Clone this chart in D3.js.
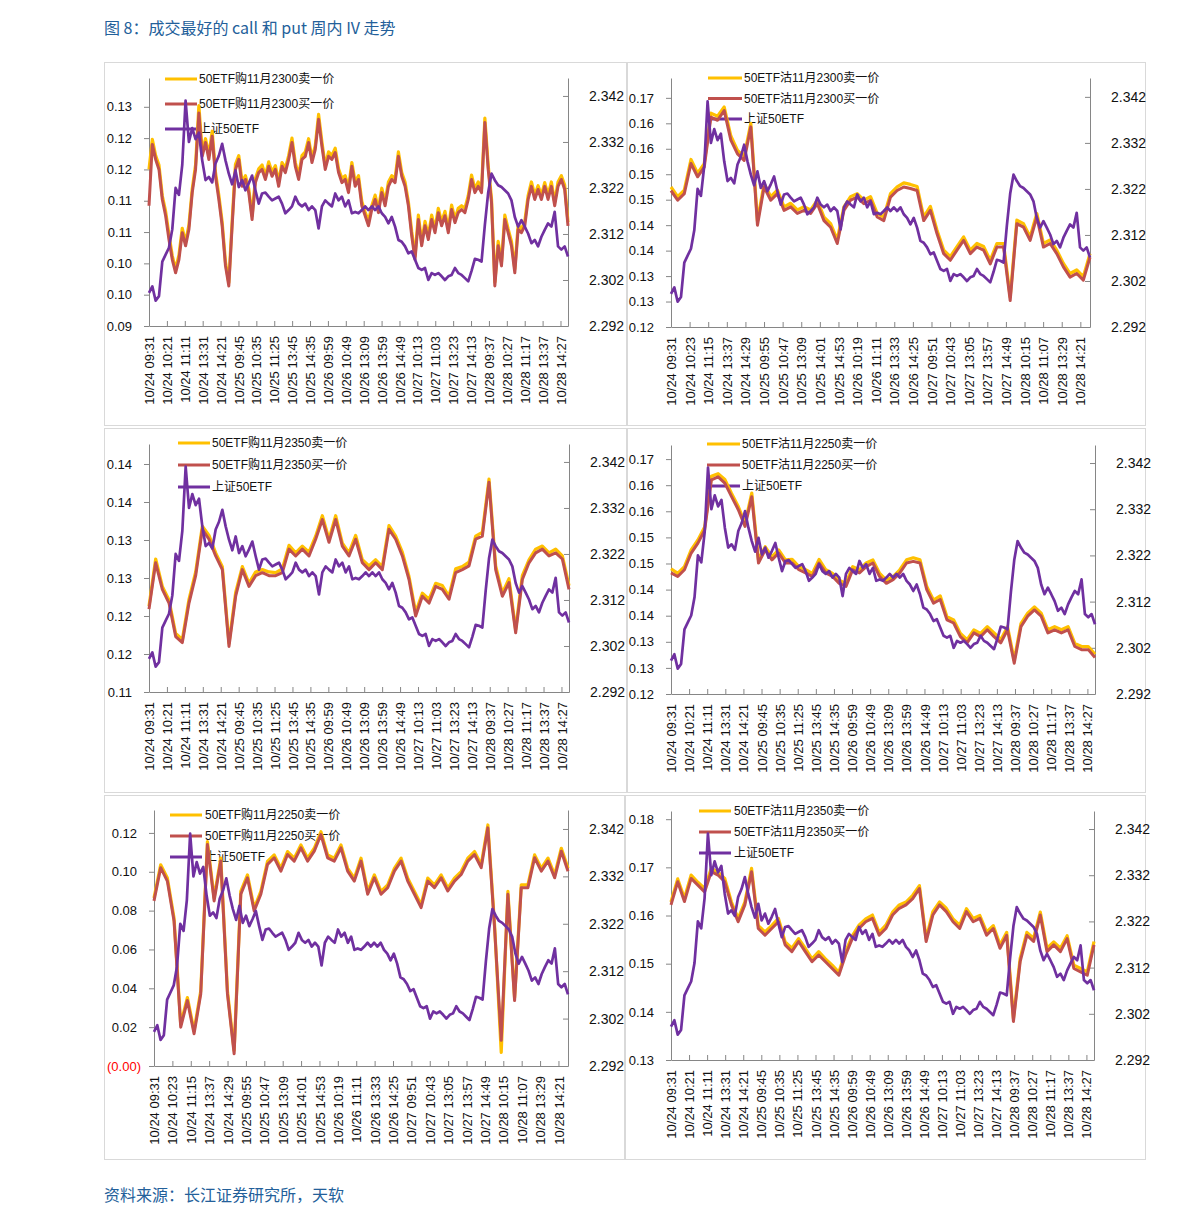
<!DOCTYPE html>
<html><head><meta charset="utf-8">
<script src="https://cdn.jsdelivr.net/npm/d3@7"></script>
<style>body{margin:0;background:#fff}svg{display:block}</style>
</head><body>
<svg id="c" width="1191" height="1224"></svg>
<script>
// ---------- data ----------
const etfPrice = [2.2992,2.3006,2.2975,2.2985,2.3060,2.3075,2.3090,2.3130,2.3220,2.3205,
 2.3270,2.3410,2.3320,2.3350,2.3326,2.3340,2.3280,2.3237,2.3244,2.3232,
 2.3273,2.3290,2.3316,2.3280,2.3251,2.3228,2.3258,2.3222,2.3237,2.3215,
 2.3230,2.3247,2.3215,2.3186,2.3208,2.3210,2.3201,2.3193,2.3197,2.3201,
 2.3186,2.3165,2.3172,2.3180,2.3201,2.3186,2.3180,2.3186,2.3172,2.3180,
 2.3172,2.3132,2.3180,2.3193,2.3186,2.3180,2.3208,2.3193,2.3201,2.3180,
 2.3193,2.3165,2.3168,2.3165,2.3172,2.3180,2.3172,2.3180,2.3172,2.3180,
 2.3165,2.3157,2.3143,2.3157,2.3136,2.3107,2.3103,2.3093,2.3078,2.3082,
 2.3064,2.3046,2.3042,2.3046,2.3020,2.3035,2.3031,2.3035,2.3028,2.3020,
 2.3028,2.3031,2.3046,2.3035,2.3031,2.3024,2.3017,2.3040,2.3066,2.3064,
 2.3060,2.3140,2.3210,2.3251,2.3237,2.3226,2.3222,2.3215,2.3208,2.3193,
 2.3157,2.3136,2.3150,2.3136,2.3121,2.3100,2.3107,2.3093,2.3114,2.3129,
 2.3143,2.3136,2.3168,2.3093,2.3086,2.3093,2.3071];

const call2300Bid = [0.1092,0.1190,0.1166,0.1150,0.1102,0.1076,0.1038,0.1006,0.0985,0.1006,
 0.1049,0.1028,0.1054,0.1113,0.1150,0.1240,0.1171,0.1193,0.1166,0.1203,
 0.1139,0.1102,0.1060,0.0996,0.0964,0.1060,0.1150,0.1166,0.1123,0.1134,
 0.1113,0.1070,0.1129,0.1145,0.1150,0.1134,0.1155,0.1139,0.1150,0.1123,
 0.1155,0.1145,0.1166,0.1193,0.1155,0.1134,0.1166,0.1171,0.1193,0.1161,
 0.1182,0.1230,0.1187,0.1150,0.1171,0.1166,0.1177,0.1145,0.1129,0.1134,
 0.1113,0.1155,0.1123,0.1134,0.1092,0.1076,0.1060,0.1086,0.1102,0.1081,
 0.1113,0.1092,0.1123,0.1134,0.1129,0.1171,0.1139,0.1123,0.1092,0.1044,
 0.1006,0.1070,0.1028,0.1060,0.1038,0.1070,0.1049,0.1081,0.1060,0.1076,
 0.1049,0.1086,0.1065,0.1081,0.1086,0.1081,0.1102,0.1134,0.1113,0.1123,
 0.1113,0.1225,0.1150,0.1097,0.0964,0.1028,0.0996,0.1070,0.1049,0.1028,
 0.0985,0.1054,0.1049,0.1060,0.1102,0.1123,0.1102,0.1118,0.1102,0.1123,
 0.1102,0.1123,0.1092,0.1123,0.1134,0.1118,0.1060];
const call2300Ask = [0.1150,0.1198,0.1172,0.1157,0.1108,0.1083,0.1046,0.1012,0.0991,0.1013,
 0.1056,0.1034,0.1061,0.1119,0.1157,0.1252,0.1178,0.1199,0.1173,0.1211,
 0.1145,0.1109,0.1066,0.1002,0.0969,0.1067,0.1158,0.1172,0.1130,0.1140,
 0.1119,0.1076,0.1136,0.1151,0.1157,0.1140,0.1162,0.1146,0.1156,0.1130,
 0.1161,0.1152,0.1172,0.1200,0.1161,0.1141,0.1172,0.1178,0.1199,0.1168,
 0.1188,0.1238,0.1194,0.1156,0.1178,0.1172,0.1184,0.1151,0.1136,0.1140,
 0.1120,0.1161,0.1130,0.1140,0.1099,0.1082,0.1067,0.1092,0.1109,0.1087,
 0.1120,0.1098,0.1130,0.1140,0.1136,0.1178,0.1145,0.1130,0.1098,0.1051,
 0.1012,0.1077,0.1034,0.1067,0.1044,0.1077,0.1055,0.1088,0.1066,0.1083,
 0.1055,0.1093,0.1071,0.1088,0.1092,0.1088,0.1108,0.1141,0.1119,0.1130,
 0.1119,0.1232,0.1157,0.1103,0.0970,0.1035,0.1002,0.1077,0.1055,0.1035,
 0.0991,0.1061,0.1055,0.1067,0.1108,0.1130,0.1109,0.1124,0.1109,0.1129,
 0.1109,0.1130,0.1098,0.1130,0.1140,0.1125,0.1066];

const put2300Bid = [0.1468,0.1449,0.1462,0.1521,0.1495,0.1514,0.1612,0.1606,0.1625,0.1567,
 0.1540,0.1527,0.1593,0.1400,0.1475,0.1449,0.1462,0.1429,0.1436,0.1423,
 0.1429,0.1423,0.1442,0.1409,0.1396,0.1364,0.1429,0.1449,0.1455,0.1442,
 0.1449,0.1416,0.1409,0.1455,0.1468,0.1475,0.1472,0.1468,0.1409,0.1429,
 0.1383,0.1344,0.1331,0.1351,0.1370,0.1344,0.1357,0.1351,0.1324,0.1357,
 0.1357,0.1252,0.1403,0.1396,0.1370,0.1416,0.1357,0.1364,0.1344,0.1318,
 0.1298,0.1305,0.1292,0.1337];
const put2300Ask = [0.1475,0.1456,0.1469,0.1529,0.1502,0.1521,0.1620,0.1614,0.1632,0.1575,
 0.1547,0.1535,0.1600,0.1408,0.1482,0.1456,0.1469,0.1436,0.1443,0.1430,
 0.1436,0.1430,0.1449,0.1416,0.1403,0.1371,0.1436,0.1456,0.1462,0.1449,
 0.1456,0.1423,0.1416,0.1462,0.1475,0.1483,0.1480,0.1476,0.1416,0.1437,
 0.1390,0.1351,0.1338,0.1358,0.1377,0.1351,0.1364,0.1358,0.1331,0.1364,
 0.1364,0.1259,0.1410,0.1403,0.1377,0.1423,0.1364,0.1371,0.1351,0.1325,
 0.1305,0.1312,0.1299,0.1344];

const call2350Bid = [0.1209,0.1270,0.1235,0.1217,0.1173,0.1165,0.1217,0.1253,0.1314,0.1301,
 0.1279,0.1261,0.1160,0.1226,0.1261,0.1239,0.1253,0.1257,0.1253,0.1253,
 0.1257,0.1288,0.1279,0.1288,0.1279,0.1301,0.1327,0.1297,0.1327,0.1292,
 0.1279,0.1301,0.1270,0.1261,0.1270,0.1261,0.1314,0.1301,0.1279,0.1248,
 0.1200,0.1226,0.1217,0.1239,0.1235,0.1222,0.1257,0.1261,0.1266,0.1301,
 0.1305,0.1376,0.1261,0.1226,0.1244,0.1178,0.1248,0.1270,0.1283,0.1288,
 0.1279,0.1283,0.1275,0.1235];
const call2350Ask = [0.1213,0.1275,0.1239,0.1221,0.1177,0.1169,0.1222,0.1258,0.1318,0.1306,
 0.1283,0.1265,0.1164,0.1231,0.1265,0.1243,0.1258,0.1261,0.1258,0.1257,
 0.1262,0.1293,0.1283,0.1292,0.1284,0.1305,0.1332,0.1301,0.1332,0.1296,
 0.1283,0.1306,0.1274,0.1266,0.1274,0.1265,0.1319,0.1305,0.1284,0.1252,
 0.1205,0.1230,0.1222,0.1243,0.1240,0.1226,0.1262,0.1265,0.1271,0.1305,
 0.1310,0.1380,0.1266,0.1230,0.1249,0.1182,0.1253,0.1274,0.1288,0.1292,
 0.1283,0.1288,0.1279,0.1240];

const put2250Bid = [0.1432,0.1425,0.1438,0.1470,0.1489,0.1514,0.1610,0.1616,0.1604,0.1578,
 0.1553,0.1521,0.1578,0.1451,0.1476,0.1457,0.1470,0.1451,0.1451,0.1438,
 0.1432,0.1425,0.1451,0.1432,0.1425,0.1412,0.1406,0.1438,0.1432,0.1444,
 0.1451,0.1425,0.1412,0.1419,0.1432,0.1451,0.1454,0.1451,0.1400,0.1374,
 0.1381,0.1342,0.1336,0.1310,0.1298,0.1317,0.1310,0.1323,0.1310,0.1298,
 0.1323,0.1259,0.1329,0.1349,0.1361,0.1349,0.1317,0.1323,0.1317,0.1323,
 0.1291,0.1285,0.1285,0.1270];
const put2250Ask = [0.1440,0.1431,0.1444,0.1476,0.1495,0.1520,0.1617,0.1622,0.1611,0.1584,
 0.1559,0.1527,0.1585,0.1457,0.1482,0.1463,0.1476,0.1457,0.1458,0.1444,
 0.1438,0.1431,0.1458,0.1438,0.1431,0.1418,0.1412,0.1444,0.1438,0.1451,
 0.1457,0.1431,0.1418,0.1425,0.1438,0.1457,0.1461,0.1457,0.1406,0.1380,
 0.1388,0.1348,0.1342,0.1316,0.1304,0.1323,0.1316,0.1329,0.1317,0.1304,
 0.1329,0.1265,0.1335,0.1355,0.1367,0.1355,0.1323,0.1329,0.1323,0.1329,
 0.1297,0.1291,0.1291,0.1276];

const call2250Bid = [0.0850,0.1021,0.0952,0.0747,0.0200,0.0337,0.0166,0.0371,0.1140,0.0850,
 0.1055,0.0371,0.0063,0.0884,0.0969,0.0798,0.0884,0.1038,0.1072,0.1003,
 0.1089,0.1055,0.1123,0.1055,0.1106,0.1191,0.1072,0.1055,0.1123,0.1003,
 0.0952,0.1055,0.0884,0.0969,0.0884,0.0918,0.1003,0.1055,0.0952,0.0884,
 0.0815,0.0952,0.0918,0.0969,0.0901,0.0952,0.0986,0.1055,0.1089,0.1021,
 0.1226,0.0713,0.0132,0.0884,0.0337,0.0918,0.0918,0.1072,0.1003,0.1055,
 0.0969,0.1106,0.1003];
const call2250Ask = [0.0865,0.1036,0.0968,0.0762,0.0215,0.0352,0.0181,0.0386,0.1155,0.0866,
 0.1070,0.0386,0.0080,0.0899,0.0984,0.0813,0.0899,0.1053,0.1087,0.1018,
 0.1104,0.1070,0.1138,0.1070,0.1121,0.1206,0.1087,0.1070,0.1138,0.1018,
 0.0967,0.1070,0.0899,0.0984,0.0899,0.0933,0.1018,0.1070,0.0967,0.0899,
 0.0830,0.0967,0.0933,0.0984,0.0916,0.0967,0.1001,0.1070,0.1104,0.1036,
 0.1241,0.0728,0.0070,0.0899,0.0352,0.0933,0.0933,0.1087,0.1018,0.1070,
 0.0984,0.1121,0.1018];

const put2350Bid = [0.1622,0.1670,0.1629,0.1677,0.1663,0.1649,0.1691,0.1684,0.1670,0.1622,
 0.1587,0.1622,0.1691,0.1573,0.1559,0.1573,0.1587,0.1539,0.1525,0.1546,
 0.1525,0.1504,0.1518,0.1504,0.1490,0.1476,0.1518,0.1552,0.1573,0.1587,
 0.1594,0.1559,0.1573,0.1601,0.1615,0.1622,0.1635,0.1656,0.1546,0.1601,
 0.1622,0.1608,0.1587,0.1573,0.1608,0.1587,0.1594,0.1559,0.1573,0.1532,
 0.1559,0.1380,0.1504,0.1559,0.1546,0.1601,0.1525,0.1539,0.1525,0.1552,
 0.1490,0.1483,0.1476,0.1539];
const put2350Ask = [0.1628,0.1676,0.1636,0.1684,0.1669,0.1656,0.1698,0.1690,0.1677,0.1628,
 0.1594,0.1628,0.1698,0.1579,0.1566,0.1579,0.1594,0.1545,0.1532,0.1552,
 0.1532,0.1510,0.1525,0.1510,0.1497,0.1482,0.1525,0.1558,0.1580,0.1593,
 0.1601,0.1565,0.1580,0.1607,0.1622,0.1628,0.1642,0.1662,0.1552,0.1608,
 0.1628,0.1615,0.1593,0.1580,0.1614,0.1594,0.1600,0.1566,0.1579,0.1539,
 0.1565,0.1386,0.1511,0.1565,0.1553,0.1607,0.1532,0.1545,0.1532,0.1558,
 0.1497,0.1490,0.1483,0.1546];

const timeLabelsA = ["10/24 09:31","10/24 10:21","10/24 11:11","10/24 13:31","10/24 14:21","10/25 09:45","10/25 10:35","10/25 11:25","10/25 13:45","10/25 14:35","10/26 09:59","10/26 10:49","10/26 13:09","10/26 13:59","10/26 14:49","10/27 10:13","10/27 11:03","10/27 13:23","10/27 14:13","10/28 09:37","10/28 10:27","10/28 11:17","10/28 13:37","10/28 14:27"];
const timeLabelsB = ["10/24 09:31","10/24 10:23","10/24 11:15","10/24 13:37","10/24 14:29","10/25 09:55","10/25 10:47","10/25 13:09","10/25 14:01","10/25 14:53","10/26 10:19","10/26 11:11","10/26 13:33","10/26 14:25","10/27 09:51","10/27 10:43","10/27 13:05","10/27 13:57","10/27 14:49","10/28 10:15","10/28 11:07","10/28 13:29","10/28 14:21"];

const ticksC2300 = [0.09,0.095,0.10,0.105,0.11,0.115,0.12,0.125];
const labelsC2300 = ["0.09","0.10","0.10","0.11","0.11","0.12","0.12","0.13"];
const ticksPut = [0.12,0.125,0.13,0.135,0.14,0.145,0.15,0.155,0.16,0.165];
const labelsPut = ["0.12","0.13","0.13","0.14","0.14","0.15","0.15","0.16","0.16","0.17"];
const ticksC2350 = [0.11,0.115,0.12,0.125,0.13,0.135,0.14];
const labelsC2350 = ["0.11","0.12","0.12","0.13","0.13","0.14","0.14"];
const ticksC2250 = [0,0.02,0.04,0.06,0.08,0.10,0.12];
const labelsC2250 = ["(0.00)","0.02","0.04","0.06","0.08","0.10","0.12"];
const ticksP2350 = [0.13,0.14,0.15,0.16,0.17,0.18];
const labelsP2350 = ["0.13","0.14","0.15","0.16","0.17","0.18"];
const etfTicks = [2.292,2.302,2.312,2.322,2.332,2.342];
const etfLabels = ["2.292","2.302","2.312","2.322","2.332","2.342"];
const etfName = "上证50ETF";

// ---------- layout ----------
const N = 1172;
const C = {ask:"#FFC000", bid:"#C0504D", etf:"#7030A0", axis:"#868686", frame:"#D9D9D9", blue:"#23609A"};
const LF = "'Liberation Sans','Noto Sans CJK SC',sans-serif";

const panels = [
 {box:[104.5,62.5,522,363], l:149,r:568,t:78,b:326, yl:[0.09,0.1296], yr:[2.292,2.3459],
  lt:ticksC2300, ll:labelsC2300, xl:timeLabelsA, step:50, ask:call2300Ask, bid:call2300Bid,
  names:["50ETF购11月2300卖一价","50ETF购11月2300买一价"], leg:[165,197,199,79,25]},
 {box:[627.5,62.5,518,363], l:671,r:1090,t:78,b:327, yl:[0.12,0.1689], yr:[2.292,2.3461],
  lt:ticksPut, ll:labelsPut, xl:timeLabelsB, step:52, ask:put2300Ask, bid:put2300Bid,
  names:["50ETF沽11月2300卖一价","50ETF沽11月2300买一价"], leg:[708,742,744,78,20.5]},
 {box:[104.5,428.5,522,364], l:149,r:569,t:444,b:692, yl:[0.11,0.14263], yr:[2.292,2.3459],
  lt:ticksC2350, ll:labelsC2350, xl:timeLabelsA, step:50, ask:call2350Ask, bid:call2350Bid,
  names:["50ETF购11月2350卖一价","50ETF购11月2350买一价"], leg:[178,210,212,443,22]},
 {box:[627.5,428.5,518,364], l:671,r:1095,t:445,b:694, yl:[0.12,0.1677], yr:[2.292,2.3459],
  lt:ticksPut, ll:labelsPut, xl:timeLabelsA, step:50, ask:put2250Ask, bid:put2250Bid,
  names:["50ETF沽11月2250卖一价","50ETF沽11月2250买一价"], leg:[707,740,742,444,21]},
 {box:[104.5,795.5,520,364], l:154,r:568,t:810,b:1066, yl:[0,0.1318], yr:[2.292,2.346],
  lt:ticksC2250, ll:labelsC2250, xl:timeLabelsB, step:52, ask:call2250Ask, bid:call2250Bid,
  names:["50ETF购11月2250卖一价","50ETF购11月2250买一价"], leg:[170,202,205,815,21]},
 {box:[625.5,795.5,520,364], l:671,r:1094,t:811,b:1060, yl:[0.13,0.1817], yr:[2.292,2.3459],
  lt:ticksP2350, ll:labelsP2350, xl:timeLabelsA, step:50, ask:put2350Ask, bid:put2350Bid,
  names:["50ETF沽11月2350卖一价","50ETF沽11月2350买一价"], leg:[699,731,734,811,21]}
];

const svg = d3.select("#c");
svg.append("rect").attr("width",1191).attr("height",1224).attr("fill","#fff");

svg.append("text").attr("x",104).attr("y",34).attr("fill",C.blue)
  .attr("font-family","'Noto Sans CJK SC',sans-serif").attr("font-size",16)
  .text("图 8：成交最好的 call 和 put 周内 IV 走势");
svg.append("text").attr("x",104).attr("y",1201).attr("fill",C.blue)
  .attr("font-family","'Noto Sans CJK SC',sans-serif").attr("font-size",16)
  .text("资料来源：长江证券研究所，天软");

panels.forEach((p,pi) => {
  svg.append("rect").attr("x",p.box[0]).attr("y",p.box[1]).attr("width",p.box[2]).attr("height",p.box[3])
    .attr("fill","none").attr("stroke",C.frame).attr("stroke-width",1);
  const g = svg.append("g");
  const x = d3.scaleLinear().domain([0,N-1]).range([p.l,p.r]);
  const yL = d3.scaleLinear().domain(p.yl).range([p.b,p.t]);
  const yR = d3.scaleLinear().domain(p.yr).range([p.b,p.t]);

  // left axis
  const gl = g.append("g").attr("transform",`translate(${p.l},0)`)
    .call(d3.axisLeft(yL).tickValues(p.lt).tickFormat((d,i)=>p.ll[i]).tickSize(5).tickSizeOuter(0).tickPadding(12));
  gl.attr("font-family",LF).attr("font-size",13);
  gl.selectAll("text").attr("fill","#111").each(function(d,i){
    if (p.ll[i].startsWith("(")) d3.select(this).attr("fill","#FF0000").attr("dx",4);
  });
  // right axis
  const gr = g.append("g").attr("transform",`translate(${p.r},0)`)
    .call(d3.axisRight(yR).tickValues(etfTicks).tickFormat((d,i)=>etfLabels[i]).tickSize(-5).tickSizeOuter(0).tickPadding(21));
  gr.attr("font-family",LF).attr("font-size",14);
  gr.selectAll("text").attr("fill","#111");
  // bottom axis
  const idx = p.xl.map((_,i)=>i*p.step);
  const gb = g.append("g").attr("transform",`translate(0,${p.b})`)
    .call(d3.axisBottom(x).tickValues(idx).tickFormat((d,i)=>p.xl[i]).tickSize(-5).tickSizeOuter(0));
  gb.attr("font-family",LF).attr("font-size",13);
  gb.selectAll("text").attr("fill","#111").attr("transform","rotate(-90)")
    .attr("text-anchor","end").attr("x",-10).attr("y",0).attr("dy","0.35em");
  [gl,gr,gb].forEach(a=>{a.selectAll("path,line").attr("stroke",C.axis);});

  // legend (beneath data, as in reference)
  const [lx1,lx2,tx,ly,ldy] = p.leg;
  const legItems = [[p.names[0],C.ask],[p.names[1],C.bid],[etfName,C.etf]];
  legItems.forEach((it,i)=>{
    const yy = ly + i*ldy;
    g.append("line").attr("x1",lx1).attr("x2",lx2).attr("y1",yy).attr("y2",yy)
      .attr("stroke",it[1]).attr("stroke-width",3);
    g.append("text").attr("x",tx).attr("y",yy).attr("dy","0.35em").attr("font-family",LF)
      .attr("font-size",12).attr("fill","#111").text(it[0]);
  });

  const lineL = d3.line().x((d,i,a)=>x(i*(N-1)/(a.length-1))).y(d=>yL(d));
  const lineR = d3.line().x((d,i,a)=>x(i*(N-1)/(a.length-1))).y(d=>yR(d));
  g.append("path").datum(p.ask).attr("d",lineL).attr("fill","none").attr("stroke",C.ask)
    .attr("stroke-width",3.2).attr("stroke-linejoin","round");
  g.append("path").datum(p.bid).attr("d",lineL).attr("fill","none").attr("stroke",C.bid)
    .attr("stroke-width",3).attr("stroke-linejoin","round");
  g.append("path").datum(etfPrice).attr("d",lineR).attr("fill","none").attr("stroke",C.etf)
    .attr("stroke-width",2.7).attr("stroke-linejoin","round");
});
</script>
</body></html>
